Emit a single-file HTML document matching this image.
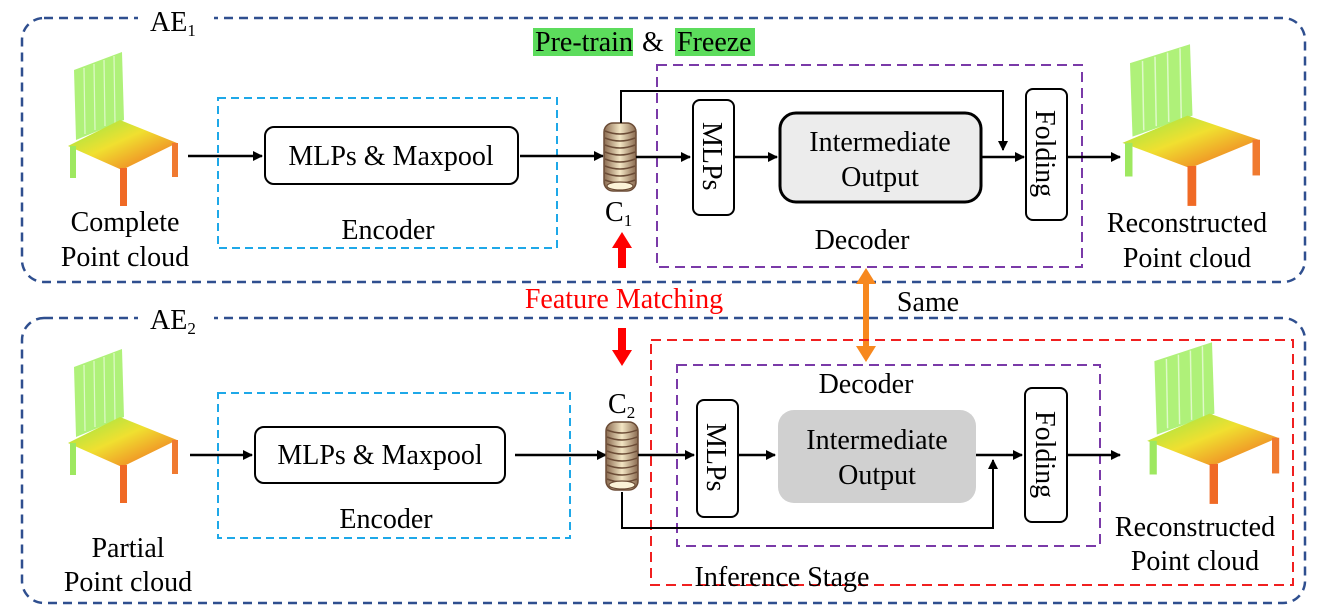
<!DOCTYPE html>
<html><head><meta charset="utf-8"><style>
html,body{margin:0;padding:0;background:#fff}
svg{display:block}
text{font-family:"Liberation Serif",serif;font-size:28px;fill:#000}
</style></head><body>
<svg width="1322" height="614" viewBox="0 0 1322 614" xmlns="http://www.w3.org/2000/svg">
<defs>
<marker id="ah" markerWidth="10" markerHeight="10" refX="9" refY="5" orient="auto" markerUnits="userSpaceOnUse"><path d="M0,0 L10,5 L0,10 z" fill="#000"/></marker>
<linearGradient id="seat" x1="0" y1="0" x2="1" y2="1"><stop offset="0" stop-color="#8ee84a"/><stop offset="0.45" stop-color="#f0e030"/><stop offset="1" stop-color="#f06020"/></linearGradient>
<linearGradient id="coil" x1="0" y1="0" x2="1" y2="0"><stop offset="0" stop-color="#8a6a50"/><stop offset="0.5" stop-color="#f3e6c4"/><stop offset="1" stop-color="#8a6a50"/></linearGradient>
<g id="chair">
<polygon points="12,22 60,4 62,72 14,92" fill="#a6ef6a" opacity="0.9"/>
<g stroke="#fff" stroke-width="1.2" opacity="0.6"><line x1="22" y1="20" x2="23" y2="86"/><line x1="32" y1="16" x2="33" y2="82"/><line x1="42" y1="12" x2="43" y2="78"/><line x1="52" y1="8" x2="53" y2="75"/></g>
<polygon points="6,98 58,72 115,95 60,122" fill="url(#seat)"/>
<rect x="8" y="98" width="6" height="32" fill="#9ee860"/>
<rect x="58" y="120" width="7" height="38" fill="#f06a25"/>
<rect x="110" y="95" width="6" height="34" fill="#f07a30"/>
</g>
<g id="coilg">
<rect x="0" y="0" width="32" height="68" rx="9" fill="url(#coil)" stroke="#6b4c36" stroke-width="1.5"/>
<g stroke="#6b4c36" stroke-width="1.5" fill="none">
<path d="M1,8 Q16,14 31,8"/><path d="M1,15 Q16,21 31,15"/><path d="M1,22 Q16,28 31,22"/><path d="M1,29 Q16,35 31,29"/><path d="M1,36 Q16,42 31,36"/><path d="M1,43 Q16,49 31,43"/><path d="M1,50 Q16,56 31,50"/><path d="M1,57 Q16,63 31,57"/>
</g>
<ellipse cx="16" cy="63" rx="13" ry="4" fill="#fbf3d8" stroke="#6b4c36" stroke-width="1.2"/>
</g>
</defs>

<rect x="22" y="18" width="1283" height="264" rx="22" fill="none" stroke="#2f4f8f" stroke-width="2.5" stroke-dasharray="9,6"/>
<rect x="22" y="318" width="1283" height="285" rx="22" fill="none" stroke="#2f4f8f" stroke-width="2.5" stroke-dasharray="9,6"/>
<rect x="138" y="8" width="76" height="22" fill="#fff"/>
<text x="150" y="31">AE<tspan font-size="17" dy="5">1</tspan></text>
<rect x="138" y="306" width="76" height="22" fill="#fff"/>
<text x="150" y="329">AE<tspan font-size="17" dy="5">2</tspan></text>

<rect x="533" y="28" width="100" height="28" fill="#5cdc5c"/>
<rect x="675" y="28" width="80" height="28" fill="#5cdc5c"/>
<text x="535" y="51">Pre-train</text><text x="642" y="51">&amp;</text><text x="677" y="51">Freeze</text>

<use href="#chair" x="62" y="48"/>
<use href="#chair" transform="translate(1115,40) scale(1.25,1.05)"/>
<text x="125" y="231" text-anchor="middle">Complete</text>
<text x="125" y="266" text-anchor="middle">Point cloud</text>
<text x="1187" y="232" text-anchor="middle">Reconstructed</text>
<text x="1187" y="267" text-anchor="middle">Point cloud</text>

<rect x="218" y="98" width="339" height="150" fill="none" stroke="#1ea8e8" stroke-width="2" stroke-dasharray="8,5"/>
<rect x="265" y="127" width="253" height="57" rx="9" fill="#fff" stroke="#000" stroke-width="2"/>
<text x="391" y="165" text-anchor="middle">MLPs &amp; Maxpool</text>
<text x="388" y="239" text-anchor="middle">Encoder</text>
<line x1="188" y1="156" x2="262" y2="156" stroke="#000" stroke-width="2.5" marker-end="url(#ah)"/>
<line x1="520" y1="156" x2="603" y2="156" stroke="#000" stroke-width="2.5" marker-end="url(#ah)"/>
<use href="#coilg" x="604" y="123"/>
<text x="605" y="221">C<tspan font-size="17" dy="5">1</tspan></text>

<rect x="657" y="65" width="425" height="202" fill="none" stroke="#7a3aa8" stroke-width="2" stroke-dasharray="10,6"/>
<polyline points="621,123 621,91 1003,91 1003,150" fill="none" stroke="#000" stroke-width="2" marker-end="url(#ah)"/>
<line x1="636" y1="157" x2="690" y2="157" stroke="#000" stroke-width="2.5" marker-end="url(#ah)"/>
<rect x="693" y="100" width="41" height="115" rx="7" fill="#fff" stroke="#000" stroke-width="2"/>
<text transform="translate(703,122) rotate(90)">MLPs</text>
<line x1="734" y1="157" x2="777" y2="157" stroke="#000" stroke-width="2.5" marker-end="url(#ah)"/>
<rect x="780" y="113" width="201" height="89" rx="16" fill="#ececec" stroke="#000" stroke-width="3"/>
<text x="880" y="151" text-anchor="middle">Intermediate</text>
<text x="880" y="186" text-anchor="middle">Output</text>
<line x1="981" y1="157" x2="1024" y2="157" stroke="#000" stroke-width="2.5" marker-end="url(#ah)"/>
<rect x="1026" y="89" width="41" height="131" rx="7" fill="#fff" stroke="#000" stroke-width="2"/>
<text transform="translate(1036,110) rotate(90)">Folding</text>
<line x1="1067" y1="157" x2="1120" y2="157" stroke="#000" stroke-width="2.5" marker-end="url(#ah)"/>
<text x="862" y="249" text-anchor="middle">Decoder</text>

<polygon points="618,268 626,268 626,248 632,248 622,232 612,248 618,248" fill="#f00"/>
<text x="624" y="308" text-anchor="middle" style="fill:#f00">Feature Matching</text>
<polygon points="618,328 626,328 626,350 632,350 622,366 612,350 618,350" fill="#f00"/>
<text x="928" y="311" text-anchor="middle">Same</text>
<line x1="866" y1="282" x2="866" y2="348" stroke="#f7881e" stroke-width="6"/>
<polygon points="856,284 876,284 866,268" fill="#f7881e"/>
<polygon points="856,346 876,346 866,362" fill="#f7881e"/>

<use href="#chair" x="62" y="345"/>
<use href="#chair" transform="translate(1140,338) scale(1.2,1.05)"/>
<text x="128" y="557" text-anchor="middle">Partial</text>
<text x="128" y="591" text-anchor="middle">Point cloud</text>
<text x="1195" y="536" text-anchor="middle">Reconstructed</text>
<text x="1195" y="570" text-anchor="middle">Point cloud</text>

<rect x="218" y="393" width="352" height="145" fill="none" stroke="#1ea8e8" stroke-width="2" stroke-dasharray="8,5"/>
<rect x="255" y="427" width="250" height="56" rx="9" fill="#fff" stroke="#000" stroke-width="2"/>
<text x="380" y="464" text-anchor="middle">MLPs &amp; Maxpool</text>
<text x="386" y="528" text-anchor="middle">Encoder</text>
<line x1="190" y1="455" x2="252" y2="455" stroke="#000" stroke-width="2.5" marker-end="url(#ah)"/>
<line x1="515" y1="455" x2="606" y2="455" stroke="#000" stroke-width="2.5" marker-end="url(#ah)"/>
<use href="#coilg" x="606" y="422"/>
<text x="608" y="413">C<tspan font-size="17" dy="5">2</tspan></text>

<rect x="651" y="340" width="642" height="245" fill="none" stroke="#f02020" stroke-width="2" stroke-dasharray="10,6"/>
<rect x="677" y="365" width="423" height="181" fill="none" stroke="#7a3aa8" stroke-width="2" stroke-dasharray="10,6"/>
<text x="866" y="393" text-anchor="middle">Decoder</text>
<text x="782" y="586" text-anchor="middle">Inference Stage</text>
<polyline points="622,492 622,528 993,528 993,460" fill="none" stroke="#000" stroke-width="2" marker-end="url(#ah)"/>
<line x1="638" y1="455" x2="694" y2="455" stroke="#000" stroke-width="2.5" marker-end="url(#ah)"/>
<rect x="697" y="400" width="41" height="117" rx="7" fill="#fff" stroke="#000" stroke-width="2"/>
<text transform="translate(707,423) rotate(90)">MLPs</text>
<line x1="738" y1="455" x2="775" y2="455" stroke="#000" stroke-width="2.5" marker-end="url(#ah)"/>
<rect x="778" y="410" width="198" height="93" rx="16" fill="#d0d0d0"/>
<text x="877" y="449" text-anchor="middle">Intermediate</text>
<text x="877" y="484" text-anchor="middle">Output</text>
<line x1="976" y1="455" x2="1022" y2="455" stroke="#000" stroke-width="2.5" marker-end="url(#ah)"/>
<rect x="1025" y="388" width="42" height="134" rx="7" fill="#fff" stroke="#000" stroke-width="2"/>
<text transform="translate(1036,411) rotate(90)">Folding</text>
<line x1="1067" y1="455" x2="1120" y2="455" stroke="#000" stroke-width="2.5" marker-end="url(#ah)"/>
</svg>
</body></html>
